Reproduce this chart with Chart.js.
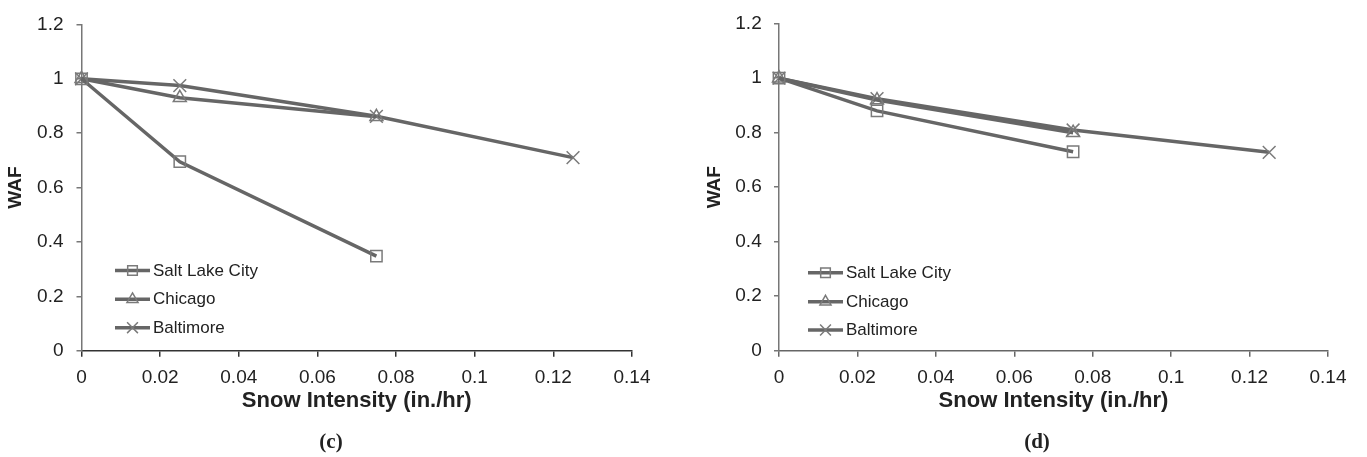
<!DOCTYPE html>
<html>
<head>
<meta charset="utf-8">
<script src="https://cdn.jsdelivr.net/npm/chart.js@4"></script>
<style>
  html, body { margin: 0; padding: 0; background: #fff; }
  body { width: 1367px; height: 457px; position: relative; overflow: hidden; }
  canvas { position: absolute; top: 0; }
  .cap { position: absolute; font-family: "Liberation Serif", "DejaVu Serif", serif; font-weight: bold;
         font-size: 21px; color: #222; transform: translate(-50%, -50%); white-space: nowrap; }
</style>
</head>
<body>
<canvas id="chartC" width="683" height="457" style="left:0px"></canvas>
<canvas id="chartD" width="683" height="457" style="left:684px"></canvas>
<div class="cap" style="left:331px; top:441px;">(c)</div>
<div class="cap" style="left:1037px; top:441px;">(d)</div>
<script>
// ---- data ----
const seriesNames = ['Salt Lake City', 'Chicago', 'Baltimore'];
const intensity = [0, 0.025, 0.075, 0.125];
// panel (c)
const slcC = [1.0, 0.695, 0.348];
const chicagoC = [1.0, 0.93, 0.86];
const baltimoreC = [1.0, 0.975, 0.862, 0.71];
// panel (d)
const slcD = [1.0, 0.88, 0.73];
const chicagoD = [1.0, 0.92, 0.80];
const baltimoreD = [1.0, 0.925, 0.81, 0.728];
// ticks
const xTicks = [0, 0.02, 0.04, 0.06, 0.08, 0.1, 0.12, 0.14];
const yTicks = [0, 0.2, 0.4, 0.6, 0.8, 1.0, 1.2];
const xTitle = 'Snow Intensity (in./hr)';
const yTitle = 'WAF';

const LINE = '#666666';
const MARK = '#7a7a7a';
const styles = [
  { pointStyle: 'rect', radius: 8 },
  { pointStyle: 'triangle', radius: 7.5 },
  { pointStyle: 'crossRot', radius: 9 }
];

function toPts(vals) { return vals.map((v, i) => ({ x: intensity[i], y: v })); }

function makeDatasets(list) {
  return list.map((vals, i) => ({
    label: seriesNames[i],
    data: toPts(vals),
    borderColor: LINE,
    borderWidth: 3.5,
    tension: 0,
    fill: false,
    clip: false,
    pointStyle: styles[i].pointStyle,
    pointRadius: styles[i].radius,
    pointHoverRadius: styles[i].radius,
    pointBorderColor: MARK,
    pointBackgroundColor: 'rgba(0,0,0,0)',
    pointBorderWidth: 1.5
  }));
}

const lineLegend = {
  id: 'lineLegend',
  afterDatasetsDraw(chart, args, opts) {
    const ctx = chart.ctx;
    const ca = chart.chartArea;
    chart.data.datasets.forEach((ds, i) => {
      const y = opts.rows[i];
      const x0 = ca.left + opts.dx;
      const x1 = x0 + opts.lineLen;
      ctx.save();
      ctx.strokeStyle = ds.borderColor;
      ctx.lineWidth = ds.borderWidth;
      ctx.lineCap = 'butt';
      ctx.beginPath(); ctx.moveTo(x0, y); ctx.lineTo(x1, y); ctx.stroke();
      ctx.strokeStyle = ds.pointBorderColor;
      ctx.fillStyle = 'rgba(0,0,0,0)';
      ctx.lineWidth = ds.pointBorderWidth;
      Chart.helpers.drawPoint(ctx, {
        pointStyle: ds.pointStyle, radius: ds.pointRadius * 0.85, rotation: 0,
        borderWidth: ds.pointBorderWidth
      }, (x0 + x1) / 2, y);
      ctx.fillStyle = '#222';
      ctx.font = '17px "Liberation Sans", Arial, sans-serif';
      ctx.textBaseline = 'middle';
      ctx.textAlign = 'left';
      ctx.fillText(ds.label, x1 + opts.gap, y + 0.5);
      ctx.restore();
    });
  }
};

function makeChart(id, lists, cfg) {
  return new Chart(document.getElementById(id), {
    type: 'line',
    data: { datasets: makeDatasets(lists) },
    plugins: [lineLegend],
    options: {
      responsive: false,
      animation: false,
      devicePixelRatio: 1,
      events: [],
      layout: { padding: { left: 0, right: cfg.padR, top: cfg.padT, bottom: 0 } },
      plugins: {
        legend: { display: false },
        tooltip: { enabled: false },
        lineLegend: { rows: cfg.rows, dx: cfg.legDx, lineLen: 35, gap: 3 }
      },
      scales: {
        x: {
          type: 'linear',
          min: 0, max: 0.14,
          afterBuildTicks: s => { s.ticks = xTicks.map(v => ({ value: v })); },
          afterFit: s => { s.height = 457 - cfg.bottom; },
          ticks: {
            padding: 10,
            color: '#222',
            font: { family: '"Liberation Sans", Arial, sans-serif', size: 19 },
            maxRotation: 0, autoSkip: false,
            callback: v => String(+Number(v).toFixed(2))
          },
          grid: { display: true, drawOnChartArea: false, drawTicks: true, tickLength: 6,
                  color: cfg.xAxisColor, lineWidth: 1.5 },
          border: { display: true, color: cfg.xAxisColor, width: 1.5 },
          title: {
            display: true, text: xTitle, color: '#222',
            font: { family: '"Liberation Sans", Arial, sans-serif', size: 22, weight: 'bold' },
            padding: { top: 0, bottom: 42.8 }
          }
        },
        y: {
          type: 'linear',
          min: 0, max: 1.2,
          afterBuildTicks: s => { s.ticks = yTicks.map(v => ({ value: v })); },
          afterFit: s => { s.width = cfg.yWidth; },
          ticks: {
            padding: cfg.yPad,
            color: '#222',
            font: { family: '"Liberation Sans", Arial, sans-serif', size: 19 },
            callback: v => String(+Number(v).toFixed(1))
          },
          grid: { display: true, drawOnChartArea: false, drawTicks: true, tickLength: 5,
                  color: '#777', lineWidth: 1.5 },
          border: { display: true, color: '#777', width: 1.5 },
          title: {
            display: true, text: yTitle, color: '#222',
            font: { family: '"Liberation Sans", Arial, sans-serif', size: 19, weight: 'bold' },
            padding: { top: cfg.yTitlePad, bottom: 0 }
          }
        }
      }
    }
  });
}

makeChart('chartC', [slcC, chicagoC, baltimoreC], {
  padR: 683 - 632, padT: 15.7, bottom: 350.7, yWidth: 81.5, yPad: 13, yTitlePad: 4.6,
  rows: [270.5, 299.3, 327.7], legDx: 33.5, xAxisColor: '#333'
});
makeChart('chartD', [slcD, chicagoD, baltimoreD], {
  padR: 1367 - 1328, padT: 18.3, bottom: 350.7, yWidth: 95, yPad: 12.3, yTitlePad: 19.6,
  rows: [272.7, 301.7, 330], legDx: 29, xAxisColor: '#666'
});
</script>
</body>
</html>
